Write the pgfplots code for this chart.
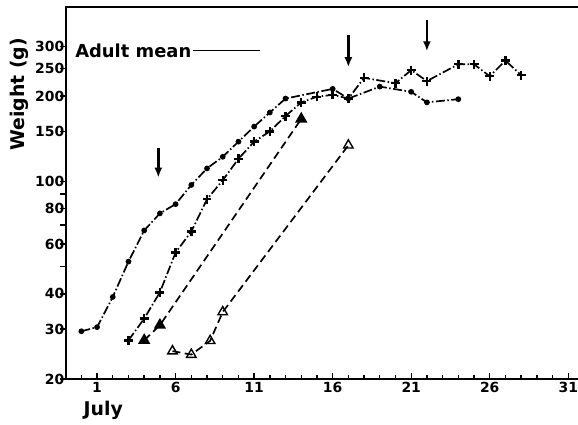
\documentclass[border=0pt]{standalone}
\usepackage{fontspec}
\setmainfont{DejaVu Sans}
\usepackage{pgfplots}
\pgfplotsset{compat=1.18}
\usetikzlibrary{arrows.meta}
\begin{document}
\begin{tikzpicture}
\begin{axis}[
  scale only axis,
  width=521pt, height=374pt,
  xmin=-1, xmax=32,
  ymode=log, ymin=20, ymax=413,
  axis line style={line width=1.8pt},
  tick align=inside,
  xtick pos=left, ytick pos=left,
  major tick length=6pt, minor tick length=4pt,
  tick style={line width=1.4pt, black},
  y tick style={xshift=-6pt},
  xtick={1,6,11,16,21,26,31},
  xticklabels={1,6,11,16,21,26,31},
  minor xtick={0,...,31},
  ytick={20,30,40,50,60,70,80,90,100,150,200,250,300},
  yticklabels={20,30,40,,60,,80,,100,150,200,250,300},
  ticklabel style={font=\fontsize{14}{14}\selectfont\bfseries},
  yticklabel style={inner sep=1.2pt},
  ylabel={Weight (g)},
  ylabel style={at={(axis description cs:-0.090,0.765)}, anchor=center, font=\fontsize{19}{19}\selectfont\bfseries},
  clip=false,
]
\pgfplotstableread{
x y
0 29.5
1 30.5
2 39
3 52
4 67
5 77
6 83
7 97
8 111
9 122
10 138
11 156
12 175
13 196
16 212
17 196
19 216
21 207
22 190
24 195
}\seriesA
\pgfplotstableread{
x y
3 27.4
4 32.7
5 40.5
6 56
7 66.4
8 86.4
9 100.8
10 120
11 138
12 150
13 170
14 190
15 199
16 202
17 196
18 232
20 222
21 247
22 226
24 259
25 259
26 235
27 267
28 237
}\seriesB
\pgfplotstableread{
x y
4 27.4
5 31
14 166
}\seriesC
\pgfplotstableread{
x y
5.8 25.1
7 24.4
8.2 27.3
9 34.5
17 134
}\seriesD

\addplot[black, line width=1.7pt, dash pattern=on 9pt off 2.5pt on 1.5pt off 2.5pt,
  mark=*, mark size=2pt, mark options={solid}] table[x=x,y=y] {\seriesA};
\addplot[black, line width=1.7pt, dash pattern=on 9pt off 2.5pt on 1.5pt off 2.5pt,
  mark=+, mark size=4.5pt, mark options={solid, line width=2.4pt}] table[x=x,y=y] {\seriesB};
\addplot[black, line width=1.7pt, dash pattern=on 8pt off 4.5pt,
  mark=triangle*, mark size=5.5pt, mark options={solid}] table[x=x,y=y] {\seriesC};
\addplot[black, line width=1.7pt, dash pattern=on 8pt off 4.5pt,
  mark=triangle, mark size=5.5pt, mark options={solid, fill=white, line width=1.4pt}] table[x=x,y=y] {\seriesD};

\draw[line width=2.4pt, -{Latex[length=10pt,width=8pt]}] (axis cs:4.9,131) -- (axis cs:4.9,103);
\draw[line width=2.4pt, -{Latex[length=10pt,width=8pt]}] (axis cs:17,328) -- (axis cs:17,253);
\draw[line width=2.4pt, -{Latex[length=10pt,width=8pt]}] (axis cs:22,370) -- (axis cs:22,288);

\node[anchor=west, inner sep=0pt, font=\fontsize{18}{18}\selectfont\bfseries] at (axis cs:-0.4,288) {Adult mean};
\draw[line width=1.8pt] (axis cs:7.1,290) -- (axis cs:11.35,290);

\node[font=\fontsize{19}{19}\selectfont\bfseries, yshift=-32pt] at (axis cs:1.4,20) {July};

\coordinate (ll) at (rel axis cs:0,0);
\coordinate (ul) at (rel axis cs:0,1);
\end{axis}
\pgfresetboundingbox
\path[use as bounding box] ([shift={(-66pt,-46pt)}]ll) rectangle ([shift={(515pt,7pt)}]ul);
\end{tikzpicture}
\end{document}
